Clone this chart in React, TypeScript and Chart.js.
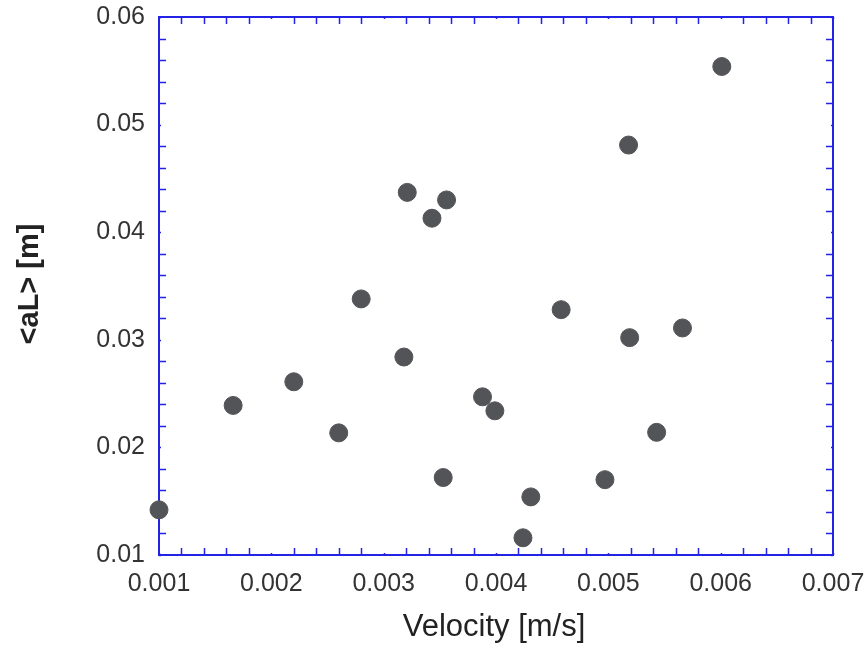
import React, { useEffect, useRef } from "react";
import { Chart, registerables } from "chart.js";

Chart.register(...registerables);

const velocity = [
  0.001, 0.00166, 0.0022, 0.0026, 0.0028, 0.00318, 0.00321, 0.00343, 0.00356,
  0.00353, 0.00388, 0.00399, 0.00424, 0.00431, 0.00458, 0.00497, 0.00518,
  0.00519, 0.00543, 0.00566, 0.00601,
];
const aL = [
  0.0142, 0.0239, 0.0261, 0.02135, 0.0338, 0.0284, 0.0437, 0.0413, 0.043,
  0.0172, 0.0247, 0.0234, 0.0116, 0.0154, 0.0328, 0.017, 0.0481, 0.0302,
  0.0214, 0.0311, 0.0554,
];
const xTicks = ["0.001", "0.002", "0.003", "0.004", "0.005", "0.006", "0.007"];
const yTicks = ["0.01", "0.02", "0.03", "0.04", "0.05", "0.06"];
const xTitle = "Velocity [m/s]";
const yTitle = "<aL> [m]";

const BLUE = "#2323e6";

const framePlugin = {
  id: "frame",
  beforeDatasetsDraw(chart: any) {
    const { ctx, chartArea: a, scales } = chart;
    const xs = scales.x;
    const ys = scales.y;
    ctx.save();
    ctx.strokeStyle = BLUE;
    ctx.lineWidth = 2;
    ctx.strokeRect(a.left, a.top, a.right - a.left, a.bottom - a.top);
    ctx.lineWidth = 1.5;
    for (let i = 0; i <= 30; i++) {
      const v = 0.001 + i * 0.0002;
      const px = Math.round(xs.getPixelForValue(v)) + 0.5;
      const len = i % 5 === 0 ? 2 : 7;
      ctx.beginPath();
      ctx.moveTo(px, a.bottom);
      ctx.lineTo(px, a.bottom - len);
      ctx.moveTo(px, a.top);
      ctx.lineTo(px, a.top + len);
      ctx.stroke();
    }
    for (let i = 0; i <= 25; i++) {
      const v = 0.01 + i * 0.002;
      const py = Math.round(ys.getPixelForValue(v)) + 0.5;
      const len = i % 5 === 0 ? 2 : 7;
      ctx.beginPath();
      ctx.moveTo(a.left, py);
      ctx.lineTo(a.left + len, py);
      ctx.moveTo(a.right, py);
      ctx.lineTo(a.right - len, py);
      ctx.stroke();
    }
    ctx.restore();
  },
  afterDraw(chart: any) {
    const { ctx } = chart;
    ctx.save();
    ctx.fillStyle = "#222";
    ctx.textAlign = "center";
    ctx.textBaseline = "middle";
    ctx.font = '31px "Liberation Sans", Arial, sans-serif';
    ctx.fillText(xTitle, 494, 627);
    ctx.translate(30, 284);
    ctx.rotate(-Math.PI / 2);
    ctx.font = 'bold 29px "Liberation Sans", Arial, sans-serif';
    ctx.fillText(yTitle, 0, 0);
    ctx.restore();
  },
};

export default function App() {
  const ref = useRef<HTMLCanvasElement>(null);
  useEffect(() => {
    document.body.style.margin = "0";
    const data = velocity.map((v, i) => ({ x: v, y: aL[i] }));
    const chart = new Chart(ref.current!, {
      type: "scatter",
      data: {
        datasets: [
          {
            data,
            backgroundColor: "#525457",
            borderColor: "#525457",
            pointRadius: 9,
            pointHoverRadius: 9,
            clip: false,
          } as any,
        ],
      },
      options: {
        animation: false,
        responsive: true,
        maintainAspectRatio: false,
        events: [],
        layout: { padding: { top: 17, right: 33, left: 0, bottom: 0 } },
        plugins: { legend: { display: false }, tooltip: { enabled: false } },
        scales: {
          x: {
            type: "linear",
            min: 0.001,
            max: 0.007,
            afterFit: (s: any) => {
              s.height = 94;
              s.paddingLeft = 0;
              s.paddingRight = 0;
              s.paddingTop = 0;
              s.paddingBottom = 0;
            },
            afterBuildTicks: (s: any) => {
              s.ticks = xTicks.map((t) => ({ value: parseFloat(t) }));
            },
            grid: { display: false, drawTicks: false },
            border: { display: false },
            ticks: {
              padding: 14,
              color: "#333",
              font: { family: '"Liberation Sans", Arial, sans-serif', size: 25 },
              maxRotation: 0,
              autoSkip: false,
              callback: (v: any) => Number(v).toFixed(3),
            },
          },
          y: {
            type: "linear",
            min: 0.01,
            max: 0.06,
            afterFit: (s: any) => {
              s.width = 159;
              s.paddingLeft = 0;
              s.paddingRight = 0;
              s.paddingTop = 0;
              s.paddingBottom = 0;
            },
            afterBuildTicks: (s: any) => {
              s.ticks = yTicks.map((t) => ({ value: parseFloat(t) }));
            },
            grid: { display: false, drawTicks: false },
            border: { display: false },
            ticks: {
              padding: 14,
              color: "#333",
              font: { family: '"Liberation Sans", Arial, sans-serif', size: 25 },
              autoSkip: false,
              callback: (v: any) => Number(v).toFixed(2),
            },
          },
        },
      },
      plugins: [framePlugin],
    });
    return () => chart.destroy();
  }, []);
  return (
    <div style={{ position: "fixed", left: 0, top: 0, width: 866, height: 649, background: "#fff" }}>
      <canvas ref={ref} />
    </div>
  );
}
